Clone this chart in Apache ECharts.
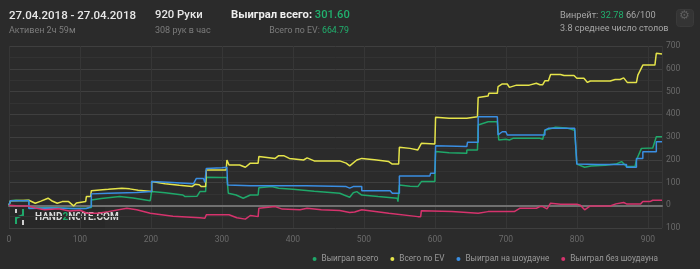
<!DOCTYPE html>
<html><head><meta charset="utf-8">
<script src="https://cdn.jsdelivr.net/npm/echarts@6/dist/echarts.min.js"></script>
<style>html,body{margin:0;padding:0;background:#2b2b2b;}#c{width:700px;height:269px;}</style>
</head><body><div id="c"></div>
<script>
var seriesNames = ['Выиграл всего','Всего по EV','Выиграл на шоудауне','Выиграл без шоудауна'];
var xTicks = [0,100,200,300,400,500,600,700,800,900];
var yTicks = [-100,0,100,200,300,400,500,600,700];

var wonTotal = [[0,0],[2,20],[10,22],[20,20],[28,22],[28,-12],[60,-10],[90,-14],[110,-12],[116,-10],[116,23],[130,30],[156,38],[175,32],[199,20],[201,20],[201,60],[220,55],[245,45],[248,38],[265,40],[269,60],[277,60],[278,123],[300,122],[307,122],[309,53],[320,45],[330,31],[340,45],[351,45],[352,77],[370,82],[380,75],[400,70],[430,62],[466,53],[472,45],[480,35],[485,55],[490,60],[497,45],[520,38],[547,31],[548,16],[550,16],[550,89],[565,84],[576,82],[581,104],[600,104],[601,236],[620,231],[645,229],[645,243],[660,243],[661,353],[675,367],[688,367],[690,287],[700,290],[705,287],[710,294],[748,294],[752,290],[755,330],[770,343],[785,340],[797,330],[800,181],[811,167],[820,173],[840,176],[855,181],[863,192],[870,170],[882,170],[884,199],[891,250],[907,252],[912,301],[920,301.6]];

var evTotal = [[0,0],[2,20],[28,22],[29,23],[37,9],[45,18],[55,31],[60,20],[68,9],[75,16],[84,16],[91,-3],[95,10],[108,16],[109,38],[115,38],[116,64],[140,70],[159,75],[170,72],[182,66],[201,60],[201,104],[220,95],[240,88],[258,82],[262,92],[264,97],[268,90],[271,82],[277,82],[278,155],[306,155],[307,199],[310,177],[325,177],[333,167],[340,185],[351,185],[352,214],[375,206],[380,218],[387,218],[395,206],[415,199],[420,208],[430,195],[466,195],[475,185],[480,173],[490,199],[497,206],[515,200],[535,192],[540,181],[549,181],[550,255],[565,250],[576,243],[581,272],[600,269],[601,387],[620,382],[645,382],[646,389],[660,389],[661,474],[675,480],[676,492],[688,492],[689,521],[695,533],[702,533],[705,518],[715,528],[733,528],[743,536],[748,530],[752,530],[755,547],[760,547],[763,575],[777,575],[782,570],[796,570],[800,558],[810,558],[815,540],[819,546],[847,546],[854,553],[861,553],[866,560],[871,540],[884,540],[886,572],[893,616],[910,616],[912,668],[920,665]];

var wonShowdown = [[0,0],[2,20],[28,20],[28,-14],[60,-12],[100,-15],[109,-14],[110,-6],[116,-6],[116,50],[140,53],[180,56],[201,60],[201,104],[230,100],[260,95],[264,118],[274,118],[276,100],[278,162],[300,165],[307,167],[308,89],[340,86],[419,86],[420,82],[475,82],[480,75],[485,82],[497,82],[497,64],[537,64],[540,53],[550,53],[550,129],[593,129],[594,141],[600,141],[601,261],[645,258],[646,277],[661,277],[661,389],[688,389],[689,309],[695,323],[700,323],[702,309],[755,309],[755,330],[760,338],[797,338],[800,181],[830,179],[870,179],[870,167],[884,167],[884,206],[893,206],[893,235],[912,235],[912,279],[920,279]];

var wonNonShowdown = [[0,0],[10,-2],[28,-3],[37,-12],[50,-20],[70,-15],[85,-25],[100,-22],[110,-35],[125,-35],[140,-28],[166,-13],[180,-20],[199,-35],[231,-48],[269,-55],[276,-57],[278,-42],[310,-42],[321,-55],[333,-61],[340,-45],[351,-50],[352,-13],[375,-6],[385,-17],[410,-20],[420,-13],[440,-20],[466,-23],[480,-32],[487,-30],[497,-20],[535,-35],[576,-50],[580,-50],[581,-24],[624,-28],[661,-35],[675,-28],[712,-28],[720,-13],[743,-13],[748,-6],[752,-6],[758,-16],[763,9],[777,4],[800,4],[805,0],[811,-20],[819,-3],[847,-3],[855,6],[866,12],[870,6],[890,6],[893,16],[903,16],[907,22],[920,22]];

var colors = ['#1fa86a','#e5e44a','#3a8ee2','#d6336d'];
var dataSets = [wonTotal, evTotal, wonShowdown, wonNonShowdown];

var chart = echarts.init(document.getElementById('c'), null, {renderer:'canvas'});
var FF = 'Roboto, sans-serif';
var series = seriesNames.map(function(n,i){
  return {name:n, type:'line', data:dataSets[i], showSymbol:false, symbol:'circle',
    lineStyle:{width:1.5, color:colors[i]}, itemStyle:{color:colors[i]}, animation:false};
});
chart.setOption({
  backgroundColor:'#2b2b2b',
  animation:false,
  grid:{left:9, right:38, top:46, bottom:41},
  xAxis:{type:'value', min:xTicks[0], max:920, interval:100,
    axisLine:{show:true, onZero:true, lineStyle:{color:'#707070', width:2}},
    axisTick:{show:false},
    axisLabel:{color:'#6a6a6a', fontSize:8.5, fontFamily:FF, margin:7, showMaxLabel:false},
    splitLine:{show:true, lineStyle:{color:'#363636', width:1}}},
  yAxis:{type:'value', position:'right', min:yTicks[0], max:yTicks[yTicks.length-1], interval:100,
    axisLine:{show:false}, axisTick:{show:false},
    axisLabel:{color:'#6a6a6a', fontSize:8.5, fontFamily:FF, margin:4, formatter:function(v){return String(Math.abs(v));}},
    splitLine:{show:true, lineStyle:{color:'#3f3f3f', width:1}},
    minorTick:{show:false, splitNumber:2},
    minorSplitLine:{show:true, lineStyle:{color:'#333333', width:1}}},
  legend:{data:seriesNames, right:37, top:250, icon:'circle', itemWidth:4, itemHeight:4, itemGap:12,
    textStyle:{color:'#9a9a9a', fontSize:8.2, fontFamily:FF}},
  graphic:[
    {type:'text', left:9, top:10, style:{text:'27.04.2018 - 27.04.2018', fill:'#e8e8e8', font:'500 11.5px '+FF}},
    {type:'text', left:9, top:26, style:{text:'Активен 2ч 59м', fill:'#7c7c7c', font:'9px '+FF}},
    {type:'text', left:155, top:10, style:{text:'920 Руки', fill:'#e8e8e8', font:'500 11.3px '+FF}},
    {type:'text', left:155, top:26, style:{text:'308 рук в час', fill:'#7c7c7c', font:'9px '+FF}},
    {type:'text', left:231, top:10, style:{text:'{a|Выиграл всего: }{b|301.60}', rich:{a:{fill:'#eeeeee', font:'bold 11.2px '+FF}, b:{fill:'#21b06e', font:'500 11.2px '+FF}}}},
    {type:'text', right:351, top:26, style:{text:'{a|Всего по EV: }{b|664.79}', rich:{a:{fill:'#7c7c7c', font:'8.8px '+FF}, b:{fill:'#21b06e', font:'8.8px '+FF}}}},
    {type:'text', left:560, top:11, style:{text:'{a|Винрейт: }{b|32.78}{a| 66/100}', rich:{a:{fill:'#a6a6a6', font:'9.2px '+FF}, b:{fill:'#21b06e', font:'9.2px '+FF}}}},
    {type:'text', left:560, top:24, style:{text:'3.8 среднее число столов', fill:'#a6a6a6', font:'9px '+FF}},
    {type:'rect', left:676, top:9, shape:{width:17, height:17, r:3}, style:{fill:'#343434', stroke:'#3a3a3a'}},
    {type:'text', left:679, top:10, style:{text:'⚙', fill:'#5e5e5e', font:'12px "DejaVu Sans"'}},
    {type:'group', left:10, top:206, z:100, children:[
      {type:'rect', shape:{x:0,y:0,width:95,height:22}, style:{fill:'rgba(40,40,40,0.88)'}},
      {type:'rect', shape:{x:5,y:3,width:2,height:4}, style:{fill:'#cfcfcf'}},
      {type:'rect', shape:{x:12,y:14,width:2,height:5}, style:{fill:'#cfcfcf'}},
      {type:'polyline', shape:{points:[[6,18],[6,12],[13,9],[13,3]]}, style:{stroke:'#1fa86a', lineWidth:2, fill:null}},
      {type:'text', x:25, y:6, style:{text:'{a|HAND}{b|2}{a|NOTE.COM}', rich:{a:{fill:'#d8d8d8', font:'bold 10px '+FF}, b:{fill:'#1fa86a', font:'bold 10px '+FF}}}}
    ]}
  ],
  series:series
});
</script></body></html>
